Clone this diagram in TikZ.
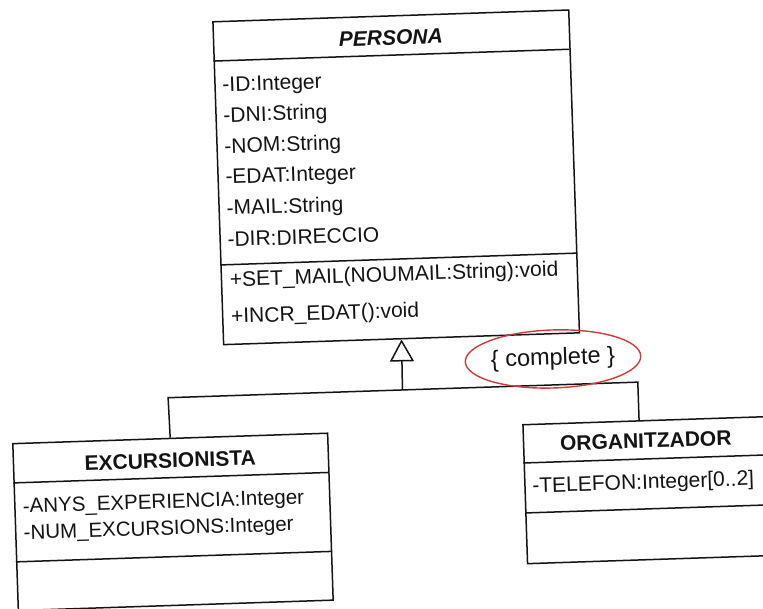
\documentclass[tikz,border=0pt]{standalone}
\usepackage{fontspec}
\setmainfont{Liberation Sans}
\usetikzlibrary{arrows.meta,shapes.geometric}
\definecolor{ink}{RGB}{20,20,20}
\definecolor{annot}{RGB}{205,60,60}
\begin{document}
\begin{tikzpicture}[x=1pt,y=-1pt,
  classframe/.style={draw=ink, line width=1.5pt, inner sep=0, anchor=north west},
  divider/.style={draw=ink, line width=1.5pt},
  link/.style={draw=ink, line width=1.5pt},
  member/.style={anchor=base west, inner sep=0, text=ink, font=\fontsize{21}{25}\selectfont},
  classname/.style={anchor=base, inner sep=0, text=ink, font=\fontsize{21}{25}\selectfont\bfseries},
  constraint/.style={ellipse, draw=annot, line width=1.4pt, inner sep=0,
    minimum width=163, minimum height=58, text=ink, font=\fontsize{23.5}{28}\selectfont}]
\useasboundingbox[fill=white] (0,0) rectangle (763,608);
\begin{scope}[rotate around={1.9:(400,300)}, transform shape]
  % PERSONA
  \node[classframe, minimum width=356, minimum height=323] (persona) at (221.5,15) {};
  \draw[divider] (221.5,55) -- (577.5,55);
  \draw[divider] (221.5,259) -- (577.5,259);
  \node[classname, font=\fontsize{21}{25}\selectfont\bfseries\itshape] (personaname) at (399.5,45) {PERSONA};
  \node[member] (p1) at (229.5,86) {-ID:Integer};
  \node[member] (p2) at (229.5,116.5) {-DNI:String};
  \node[member] (p3) at (229.5,147.5) {-NOM:String};
  \node[member] (p4) at (229.5,178) {-EDAT:Integer};
  \node[member] (p5) at (229.5,209.5) {-MAIL:String};
  \node[member] (p6) at (229.5,241) {-DIR:DIRECCIO};
  \node[member] (pm1) at (230.5,281) {+SET\_MAIL(NOUMAIL:String):void};
  \node[member] (pm2) at (230.5,317.5) {+INCR\_EDAT():void};

  % EXCURSIONISTA (base anchor of a two-line node sits on its last line)
  \node[classframe, minimum width=315, minimum height=167] (exc) at (7.5,430) {};
  \draw[divider] (7.5,470) -- (322.5,470);
  \draw[divider] (7.5,549) -- (322.5,549);
  \node[classname] (excname) at (165,460) {EXCURSIONISTA};
  \node[member, align=left, font=\fontsize{20.5}{26.5}\selectfont] (eattrs) at (16,527)
    {-ANYS\_EXPERIENCIA:Integer\\-NUM\_EXCURSIONS:Integer};

  % ORGANITZADOR
  \node[classframe, minimum width=246, minimum height=139] (org) at (518,428) {};
  \draw[divider] (518,467) -- (764,467);
  \draw[divider] (518,517) -- (764,517);
  \node[classname] (orgname) at (641,456) {ORGANITZADOR};
  \node[member] (o1) at (526,497) {-TELEFON:Integer[0..2]};

  % generalization
  \coordinate (bus) at (399.5,390);
  \coordinate (excdrop) at (165,390);
  \coordinate (orgdrop) at (635,390);
  \coordinate (orgtop) at (635,428);
  \draw[link, -{Triangle[open, length=22pt, width=24pt]}] (bus) -- (persona.south);
  \draw[link] (exc.north) -- (excdrop) -- (orgdrop) -- (orgtop);

  % constraint
  \node[constraint] (complete) at (551,364) {\{ complete \}};
\end{scope}
\end{tikzpicture}
\end{document}
